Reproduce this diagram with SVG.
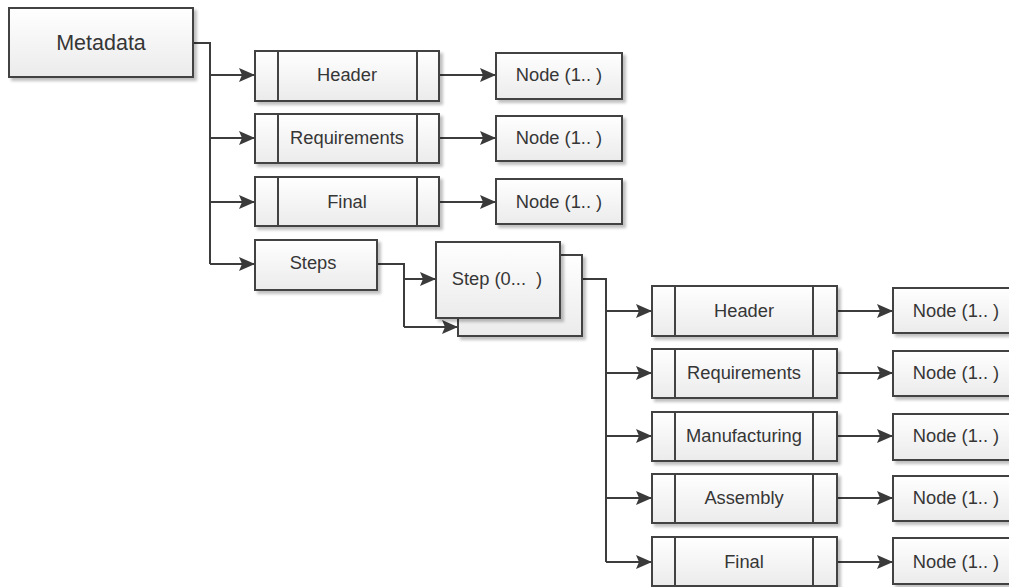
<svg xmlns="http://www.w3.org/2000/svg" width="1009" height="587" viewBox="0 0 1009 587">
<defs>
<linearGradient id="g" x1="0" y1="0" x2="0" y2="1">
<stop offset="0" stop-color="#ffffff"/>
<stop offset="1" stop-color="#ebebeb"/>
</linearGradient>
<filter id="sh" x="-10%" y="-10%" width="130%" height="140%">
<feGaussianBlur in="SourceAlpha" stdDeviation="1.5"/>
<feOffset dx="3" dy="3" result="b"/>
<feComponentTransfer><feFuncA type="linear" slope="0.25"/></feComponentTransfer>
<feMerge><feMergeNode/><feMergeNode in="SourceGraphic"/></feMerge>
</filter>
<marker id="ah" markerWidth="16" markerHeight="14" refX="16" refY="7" orient="auto" markerUnits="userSpaceOnUse">
<path d="M0,0 L16,7 L0,14 L3,7 Z" fill="#3a3a3a"/>
</marker>
</defs>
<style>
.box{fill:url(#g);stroke:#424242;stroke-width:2;filter:url(#sh)}
.div{stroke:#424242;stroke-width:2;fill:none}
.t{font-family:"Liberation Sans",Arial,sans-serif;font-size:18.3px;fill:#363636;text-anchor:middle}
.big{font-size:21.5px}
.c{fill:none;stroke:#3c3c3c;stroke-width:2}
.a{marker-end:url(#ah)}
</style>

<g id="connectors">
<polyline class="c" points="193,43 210,43 210,264"/>
<line class="c a" x1="210" y1="75" x2="255" y2="75"/>
<line class="c a" x1="210" y1="138" x2="255" y2="138"/>
<line class="c a" x1="210" y1="202" x2="255" y2="202"/>
<line class="c a" x1="210" y1="264" x2="255" y2="264"/>
<line class="c a" x1="439" y1="75" x2="496" y2="75"/>
<line class="c a" x1="439" y1="138" x2="496" y2="138"/>
<line class="c a" x1="439" y1="202" x2="496" y2="202"/>
<polyline class="c" points="377,264 404,264 404,327"/>
<line class="c a" x1="404" y1="279" x2="436" y2="279"/>
<line class="c a" x1="404" y1="327" x2="458" y2="327"/>
<polyline class="c" points="560,279 606,279 606,562"/>
<line class="c a" x1="606" y1="311" x2="652" y2="311"/>
<line class="c a" x1="606" y1="373" x2="652" y2="373"/>
<line class="c a" x1="606" y1="436" x2="652" y2="436"/>
<line class="c a" x1="606" y1="498" x2="652" y2="498"/>
<line class="c a" x1="606" y1="562" x2="652" y2="562"/>
<line class="c a" x1="837" y1="311" x2="893" y2="311"/>
<line class="c a" x1="837" y1="373" x2="893" y2="373"/>
<line class="c a" x1="837" y1="436" x2="893" y2="436"/>
<line class="c a" x1="837" y1="498" x2="893" y2="498"/>
<line class="c a" x1="837" y1="562" x2="893" y2="562"/>
</g>

<g id="metadata">
<rect class="box" x="9" y="8" width="184" height="69"/>
<text class="t big" x="101" y="50">Metadata</text>
</g>

<g id="header1">
<rect class="box" x="255" y="51" width="184" height="50"/>
<path class="div" d="M278,51 V101 M417,51 V101"/>
<text class="t" x="347" y="81">Header</text>
</g>
<g id="requirements1">
<rect class="box" x="255" y="114" width="184" height="49"/>
<path class="div" d="M278,114 V163 M417,114 V163"/>
<text class="t" x="347" y="144">Requirements</text>
</g>
<g id="final1">
<rect class="box" x="255" y="177" width="184" height="49"/>
<path class="div" d="M278,177 V226 M417,177 V226"/>
<text class="t" x="347" y="208">Final</text>
</g>

<g id="node1">
<rect class="box" x="496" y="53" width="126" height="46"/>
<text class="t" x="559" y="81">Node (1.. )</text>
</g>
<g id="node2">
<rect class="box" x="496" y="116" width="126" height="45"/>
<text class="t" x="559" y="144">Node (1.. )</text>
</g>
<g id="node3">
<rect class="box" x="496" y="179" width="126" height="45"/>
<text class="t" x="559" y="208">Node (1.. )</text>
</g>

<g id="steps">
<rect class="box" x="255" y="240" width="122" height="50"/>
<text class="t" x="313" y="269">Steps</text>
</g>

<g id="step">
<rect class="box" x="458" y="255" width="124" height="81"/>
<rect class="box" x="436" y="242" width="124" height="76"/>
<text class="t" x="497" y="285" xml:space="preserve">Step (0...  )</text>
</g>

<g id="header2">
<rect class="box" x="652" y="286" width="185" height="50"/>
<path class="div" d="M675,286 V336 M813,286 V336"/>
<text class="t" x="744" y="317">Header</text>
</g>
<g id="requirements2">
<rect class="box" x="652" y="349" width="185" height="49"/>
<path class="div" d="M675,349 V398 M813,349 V398"/>
<text class="t" x="744" y="379">Requirements</text>
</g>
<g id="manufacturing">
<rect class="box" x="652" y="412" width="185" height="49"/>
<path class="div" d="M675,412 V461 M813,412 V461"/>
<text class="t" x="744" y="442">Manufacturing</text>
</g>
<g id="assembly">
<rect class="box" x="652" y="474" width="185" height="49"/>
<path class="div" d="M675,474 V523 M813,474 V523"/>
<text class="t" x="744" y="504">Assembly</text>
</g>
<g id="final2">
<rect class="box" x="652" y="537" width="185" height="49"/>
<path class="div" d="M675,537 V586 M813,537 V586"/>
<text class="t" x="744" y="568">Final</text>
</g>

<g id="node4">
<rect class="box" x="893" y="288" width="126" height="45"/>
<text class="t" x="956" y="317">Node (1.. )</text>
</g>
<g id="node5">
<rect class="box" x="893" y="351" width="126" height="45"/>
<text class="t" x="956" y="379">Node (1.. )</text>
</g>
<g id="node6">
<rect class="box" x="893" y="414" width="126" height="46"/>
<text class="t" x="956" y="442">Node (1.. )</text>
</g>
<g id="node7">
<rect class="box" x="893" y="476" width="126" height="45"/>
<text class="t" x="956" y="504">Node (1.. )</text>
</g>
<g id="node8">
<rect class="box" x="893" y="538" width="126" height="46"/>
<text class="t" x="956" y="568">Node (1.. )</text>
</g>
</svg>
